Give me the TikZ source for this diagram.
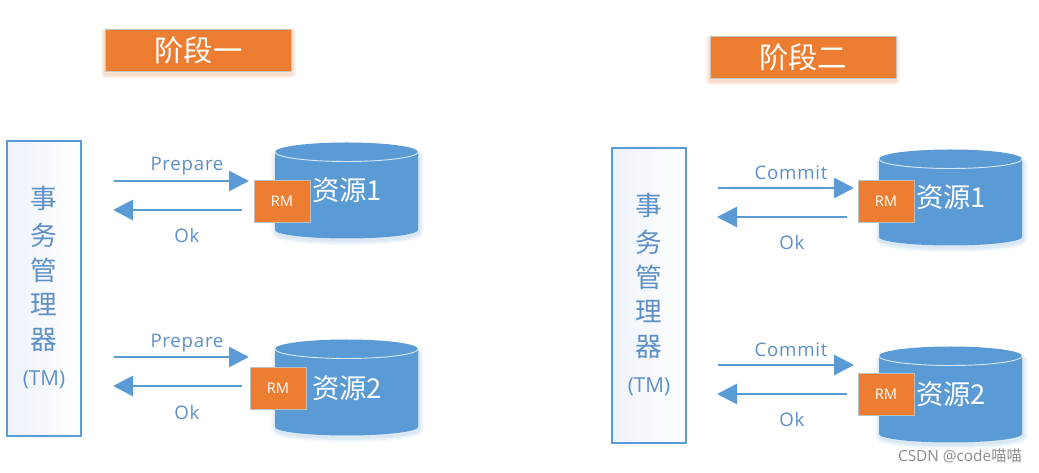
\documentclass[tikz,border=0pt]{standalone}
\usepackage{fontspec}
\setmainfont{Open Sans}
\newfontfamily\cjk{Noto Sans CJK SC}
\newfontfamily\spaced{Open Sans}[LetterSpace=4]
\usetikzlibrary{arrows.meta}
\definecolor{dbblue}{HTML}{5B9BD5}
\definecolor{dborange}{HTML}{ED7D31}
\definecolor{txtblue}{HTML}{5E8FC6}
\definecolor{paleblue}{HTML}{EEF3FA}
\tikzset{
  x=0.75pt,y=-0.75pt,
  titlebox/.style={draw=gray!45,line width=0.6pt,fill=dborange,minimum width=139.5pt,minimum height=31.5pt,inner sep=0pt,text=white,font=\cjk\fontsize{22}{24}\selectfont},
  tmbox/.style={draw=dbblue,line width=1.1pt,left color=paleblue,right color=white,minimum width=55.5pt,minimum height=221pt,inner sep=0pt},
  tmtext/.style={text=txtblue,font=\cjk\fontsize{20}{22}\selectfont,inner sep=0pt},
  tmlatin/.style={text=txtblue,font=\fontsize{15.5}{17}\selectfont,inner sep=0pt},
  rmbox/.style={draw=gray!50,line width=0.6pt,fill=dborange,minimum width=42pt,minimum height=31.5pt,inner sep=0pt,text=white,font=\fontsize{11}{13}\selectfont},
  restext/.style={text=white,font=\cjk\fontsize{20.5}{24}\selectfont,inner sep=0pt},
  msg/.style={text=txtblue,font=\spaced\fontsize{14}{16}\selectfont,inner sep=0pt},
  flow/.style={draw=dbblue,line width=2pt,-{Triangle[length=15pt,width=15pt]}},
  cyltop/.style={draw=white!75!dbblue,line width=0.7pt},
}
\newcommand{\dbcyl}[2]{%
  \foreach \w in {1,2.5,4,5.5,7}{%
    \path[draw=dbblue,draw opacity=0.05,line width=\w pt,line join=round]
      (#1+1,#2+14) -- (#1+1,#2+90) arc[start angle=180,end angle=0,x radius=71.5,y radius=8.5]
      -- (#1+144,#2+14) -- cycle;
  }%
  \path[fill=dbblue] (#1,#2+10) -- (#1,#2+88) arc[start angle=180,end angle=0,x radius=71.5,y radius=8.5]
   -- (#1+143,#2+10) arc[start angle=0,end angle=-180,x radius=71.5,y radius=9.5] -- cycle;
  \draw[cyltop] (#1,#2+10) arc[start angle=180,end angle=0,x radius=71.5,y radius=9.5];
}
\newcommand{\softshadow}[4]{%
  \foreach \w in {1,2.5,4,5.5}{%
    \path[draw=dborange,draw opacity=0.07,line width=\w pt,line join=round]
      (#1,#2+3) rectangle (#3,#4+3);
  }%
}
\begin{document}
\begin{tikzpicture}
\useasboundingbox (0,0) rectangle (1039,473);
\fill[white] (0,0) rectangle (1039,473);

\softshadow{105}{29}{292}{71}
\softshadow{710}{36}{896}{78}
\node[titlebox] (t1) at (198.5,50) {阶段一};
\node[titlebox] (t2) at (803,57) {阶段二};

% left
\node[tmbox] (tm1) at (44,288.5) {};
\node[tmtext] (a1) at (44,198) {事};
\node[tmtext] (a2) at (44,235) {务};
\node[tmtext] (a3) at (44,270) {管};
\node[tmtext] (a4) at (44,305) {理};
\node[tmtext] (a5) at (44,340) {器};
\node[tmlatin] (a6) at (44,380) {(TM)};

\dbcyl{275}{142}
\dbcyl{275}{339}
\node[restext] (r1) at (347,190) {资源1};
\node[restext] (r2) at (347,388) {资源2};
\node[rmbox] (rm1) at (282,201) {RM};
\node[rmbox] (rm2) at (278,388) {RM};

\coordinate (s1) at (114,181); \coordinate (e1) at (249,181);
\coordinate (s2) at (242,210); \coordinate (e2) at (113,210);
\coordinate (s3) at (114,357); \coordinate (e3) at (249,357);
\coordinate (s4) at (242,386); \coordinate (e4) at (113,386);
\draw[flow] (s1) -- (e1);
\draw[flow] (s2) -- (e2);
\draw[flow] (s3) -- (e3);
\draw[flow] (s4) -- (e4);
\node[msg] (m1) at (187,166) {Prepare};
\node[msg] (m2) at (187,236) {Ok};
\node[msg] (m3) at (187,343) {Prepare};
\node[msg] (m4) at (187,413) {Ok};

% right
\node[tmbox] (tm2) at (649,295.5) {};
\node[tmtext] (b1) at (649,205) {事};
\node[tmtext] (b2) at (649,242) {务};
\node[tmtext] (b3) at (649,277) {管};
\node[tmtext] (b4) at (649,312) {理};
\node[tmtext] (b5) at (649,347) {器};
\node[tmlatin] (b6) at (649,387) {(TM)};

\dbcyl{879}{149}
\dbcyl{879}{346}
\node[restext] (r3) at (951,197) {资源1};
\node[restext] (r4) at (951,394) {资源2};
\node[rmbox] (rm3) at (886,201) {RM};
\node[rmbox] (rm4) at (886,394) {RM};

\coordinate (s5) at (718,188); \coordinate (e5) at (854,188);
\coordinate (s6) at (847,217); \coordinate (e6) at (717,217);
\coordinate (s7) at (718,365); \coordinate (e7) at (854,365);
\coordinate (s8) at (847,394); \coordinate (e8) at (717,394);
\draw[flow] (s5) -- (e5);
\draw[flow] (s6) -- (e6);
\draw[flow] (s7) -- (e7);
\draw[flow] (s8) -- (e8);
\node[msg] (m5) at (791,173) {Commit};
\node[msg] (m6) at (792,243) {Ok};
\node[msg] (m7) at (791,350) {Commit};
\node[msg] (m8) at (792,420) {Ok};

\node[text=gray!90,inner sep=0pt,font=\fontsize{11.5}{14}\selectfont] (wm) at (960,456) {CSDN @code{\cjk 喵喵}};
\end{tikzpicture}
\end{document}
